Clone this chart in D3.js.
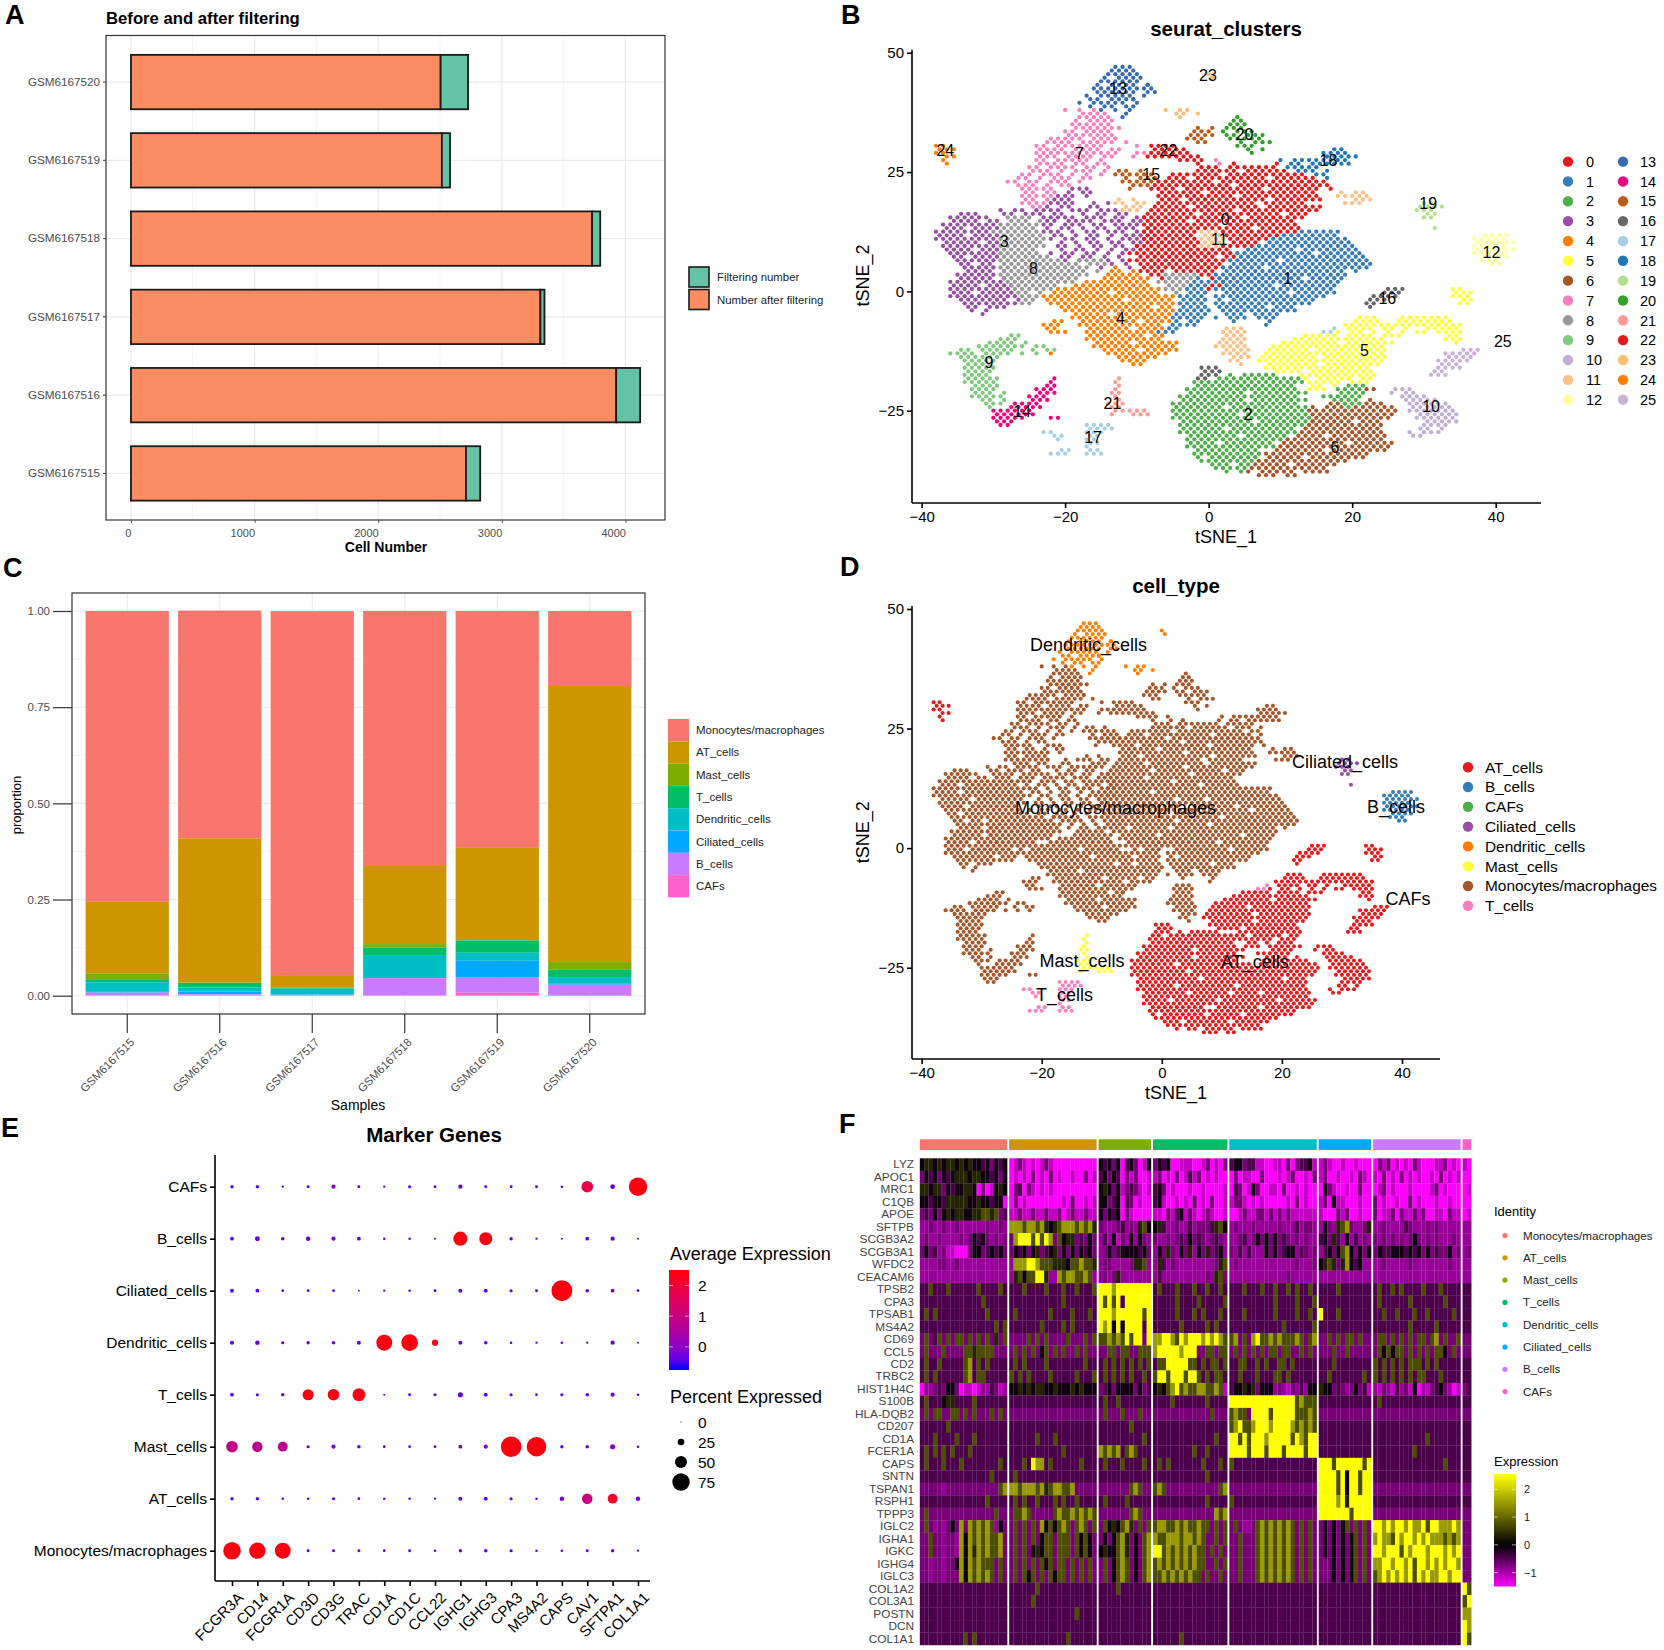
<html>
<head>
<meta charset="utf-8">
<title>scRNA figure</title>
<style>
body { margin: 0; background: white; }
text { font-family: "Liberation Sans", Arial, sans-serif; }
</style>
</head>
<body>
<svg width="1664" height="1650"></svg>
<script src="https://cdn.jsdelivr.net/npm/d3@7"></script>
<script>
// panel A
let samples = ["GSM6167520", "GSM6167519", "GSM6167518", "GSM6167517", "GSM6167516", "GSM6167515"];
let afterFilter = [2505, 2515, 3730, 3312, 3925, 2710];
let filtered = [222, 66, 66, 33, 194, 115];

// panel C, stacked from the top down
let samplesC = ["GSM6167515", "GSM6167516", "GSM6167517", "GSM6167518", "GSM6167519", "GSM6167520"];
let cellTypes = ["Monocytes/macrophages", "AT_cells", "Mast_cells", "T_cells", "Dendritic_cells", "Ciliated_cells", "B_cells", "CAFs"];
let hueColors = ["#F8766D", "#CD9600", "#7CAE00", "#00BE67", "#00BFC4", "#00A9FF", "#C77CFF", "#FF61CC"];
let props = [
  [.756, .186, .017, .006, .025, .002, .007, .001],
  [.592, .375, .001, .012, .0106, .007, .0025, .001],
  [.946, .0326, .0005, .0025, .015, .001, .001, .001],
  [.663, .203, .009, .0195, .0597, .0005, .045, .0005],
  [.614, .2415, .001, .032, .0208, .044, .039, .0078],
  [.195, .7176, .02, .019, .0173, .0026, .0268, .0017]
];

// panels B and D: map of the tSNE, one row for each y step, "startColumn:cells"
// a cell holds the cluster (0-9, a=10 ... p=25), column 0 is tSNE_1 = -38
let tsneTop = 47, tsneStepY = .75, tsneLeft = -38;
let tsneRows = [
"25:ddd",
"24:dddd",
"24:ddddd 38:n",
"23:d.dddd 38:n",
"23:dddddd",
"22:d.dddd.d 29:d",
"22:ddddddd 29:dd",
"22:dddddd 29:dd",
"21:d.ddddd.d",
"21:dd.dddd 27:d",
"20:d.ddddd.d",
"21:d.dd.d 27:d",
"18:7 20:7.7 23:d.d.d 32:n.nn",
"20:777 23:7 25:.d 33:nn.n",
"20:77777 26:d 34:n 42:k",
"19:7.7777 41:kk",
"19:777777 41:kkk",
"19:7777777 36:f.f 40:kkk",
"18:77.7777 36:fff 40:k.kk 44:k",
"18:7777777 35:ffff 40:kk.kkk",
"16:777 19:77.7777 25:7 35:fff 41:kkkkk",
"15:7777.77777 26:7 36:ff 42:k.kkk",
"0:oo 14:77.7777777 28:7 30:mmmm 42:kkk",
"0:ooo 14:7777.7777.77 30:mmmmm 43:k.k 55:ii",
"0:oo 14:777777777777 28:77mmmmmm 44:k 54:iiii",
"1:oo 14:777.7777.77 27:7 29:mmmmmmm 35:.m 54:iiiii",
"1:o 14:77.77777.7 34:mmmm 38:.7 48:i.ii 52:iiiiii",
"1:o 14:7777.77.77 35:.m 39:7.7 41:0 47:0 49:ii.i 53:iiiii",
"13:77.7777.77.7 37:000.0000000 49:iiiii",
"13:777.7.777.7 25:ff.f 36:000000.000000 50:iii.i",
"12:77.777.7.7.7 25:ffffff 33:0000000.00000000000 53:ii",
"11:77.7.777.77 26:f.fff 32:000.0000000000.000000 54:i",
"10:77.77.777.7 26:fffff 31:00000000.000000000000000",
"11:777.7 16:.77 27:fff 30:00000000000.0000000000000",
"12:77777 19:333 27:f 30:0000.00000000000.0000000.0",
"12:77.77 18:3 20:33 31:000000.000000000000000 56:b.bb",
"12:77777 17:33 19:3.3 31:00000000000.00000000000 56:bbbbb",
"12:77.7 16:333 25:b.b 31:000.00000000000.0000000 58:bbb",
"12:7777 16:3333 22:3.3 25:bb.bb 31:00000000000000.000000 57:bbb 68:jj",
"13:77 15:3.33 21:33 26:bbb 30:00000.000000000.00000000 67:jjjj",
"9:3.33.3333.3 20:33.333 26:bbb 30:000000000000.00000000000 67:jjj",
"3:333 9:33.3 13:33.33 20:3.33.33 29:0000000.00000000000.000 68:jj",
"2:333333 10:8888 15:33333 21:333.33.33 29:00000000000000.00000000 68:jj",
"2:3333.33 10:888.8 15:33.33 20:33.333.33 29:000000.00000000000000",
"1:33333333 9:888888 15:33.333.33.3333.3 29:00000000000.0000000000",
"1:333.3333 9:88888 15:3.33.3.33.333.3 29:000000000000000.000000 69:j",
"0:33333333 8:8888888 15:333.3.33.333.333 29:00000000 37:bbb 40:00000000000 51:111111",
"0:3333.3333 9:888888 16:33.3.33.3.333 29:0000000 37:bbb 40:00000000 48:11111111 76:cccc",
"0:333333333 9:8888888 16:3.33.33.3.33333 29:00000000 37:bbbb 41:000000 47:11111111111 75:ccccc",
"1:33333.33 9:888888 17:3.3.33.33.33 29:00000000 37:bbb 41:0000 46:111111111111 75:cccccc",
"1:33333333 9:8888888 17:33.3.33.33.3 28:000000000 37:bbb 40:00000 45:11111111111111 75:ccccc",
"1:3333.333 9:88888 17:3.33.3.3.33 28:0000000000000 43:1111111.11111111 75:cccccc",
"2:3333333 9:888888 16:3.33.33.3.3 27:000000000000000 42:11111111111.111111 75:ccccc",
"2:33.3333 9:8888888 17:33.33.3.3 28:00000000000.00 42:111111111111111111 76:cccc",
"3:333333 9:888888888 18:3.3 20:8888 24:3.3 27:00000000000000 41:1111111.111111111111 76:ccc",
"3:33.33 9:88888888888 21:888 24:3.3 28:000000000000 41:11111111111111111111 77:cc",
"4:33333 9:8888888888888 23:3.4.3 29:00000000000 40:111111.11111111111111",
"4:3333.3 9:888888888888 22:8.4 25:4.4 28:0000.000000 40:11111111111111111.1",
"3:333333 9:8888888888888 24:4444 28:4 30:00 32:88888 37:00 39:1111111111111111111",
"3:33333.3 9:88888888888 23:44444 28:44 31:0 32:8888 36:1 38:0 39:111111111111.11111",
"2:33333333 10:8888888888 21:444444444 31:88888 36:111.0 39:111111111111111111",
"2:3333.3333 10:8888888 19:44444444444 32:888 35:111 38:00 40:1111111.11111111",
"2:333333333 11:888888 17:444444444444444 32:888 35:111 38:0 39:11111111111111111 63:ggg 72:55",
"2:333.33333 11:88.8 16:44444444.444444 33:8 35:111 40:111111111.111111 62:ggg 72:555",
"2:3333333333 12:888 15:4444444444444444444 34:1111 39:1111111111111111 61:gggg 72:555",
"3:3333333.3 12:88 15:44444444444.444444 34:1111 39:1.111111111111 60:ggg 73:55",
"4:33333333 12:88 16:444444444444444444 34:1111 39:11111111111111 60:gg 73:55",
"4:33.333 17:4444444444444.44 34:1111 39:1111111.111 60:g",
"5:3.3 18:4444444444444444 34:11111 40:11111111111",
"6:3 19:44444.44444444 33:11111 40:111.1111",
"19:44444444444444 33:11111 39:1.111.111 59:555 65:5555555",
"16:44 20:44444444.4444 33:1.11 41:1 46:1 58:5555 64:55555555",
"15:444 20:444444444444 33:1111 46:1 57:5555555 64:5555555555",
"15:44 21:444444.4444 32:11 40:bbb 55:h 57:5555.55 63:5.5 68:55555",
"16:444 21:4444444444 31:111 40:bbbb 54:hh 56:5.55.5.5.5.55.5 71:555",
"10:99 21:44444444.44 31:4 40:bbb 53:h 51:55555.5555.555 71:55",
"9:999 21:44444444444 40:bbbb 50:5555555555555 71:555",
"7:9999 12:9 22:44444.444444 39:bbbb 48:55555555.5555555 72:5",
"6:999999 12:9.99 22:444444444444 39:bbbbb 47:5555555555555555",
"3:99.9 7:9999 13:9.99 23:44444.44444 40:bbbb 46:555555.5555555555 73:ppp",
"2:9999.9999 12:9.9.4 24:444444444 40:bbbb 46:55555555555555555 71:ppppp",
"3:99 5:9999 25:444444 41:bbb 45:55555555.555555555 71:pppp",
"4:99999 26:4444 41:bb 45:555555555555555555 70:ppppp",
"4:9999 27:44 42:b 46:5555555.55555555 70:ppp",
"4:99999 37:ggg 46:555555555555555 70:pppp",
"4:9999 37:ggg 47:5555.555555555 69:pp",
"4:9999 37:ggg 41:2.222 46:22 51:55555555555 69:ppp",
"4:99999 16:e 25:l 36:gg 39:2222222222 49:22 51:5.55555 57:5 59:55",
"4:99999 16:e 25:l 36:2222222222222222 52:55555 58:555",
"5:9999 15:ee 25:l 36:22222222222222 52:55 55:5 57:222",
"5:9999 14:eee 25:l 35:2222222222222222 52:555 56:2222 60:66 64:aaa",
"5:999.9 14:eee 24:ll 35:22222222.22222222 56:2222 63:a 65:aa",
"5:99999 13:eee 25:l 34:22222222222222222 54:222222 65:aaaa",
"6:99.9 13:eee 25:l 34:222222222.22222222 55:2222 60:6 65:aaaaa",
"7:999 11:eeee 24:lll 33:222222222222222222 55:66 57:222 60:666 66:aaaaaa",
"7:9 10:eeeee 24:ll 33:2222222.22222222222 52:6 54:666 57:2 58:666666 66:aaaaaa",
"8:eeeeee 25:lllll 33:2222222222222222222 52:6666666666666 66:aaaaaaa",
"8:eeeeee 24:l 27:lll 33:222222222.222222222 52:666666666666 67:aaaaaa",
"8:eeeee 16:ee 33:22222222222222222222 53:66666666666 67:aaaaaa",
"8:eee 34:2222222222.22222222 52:666666.666 68:aaaaa",
"9:ee 21:hhhh 34:222222222222222222 52:66666666666 68:aaaa",
"21:hhhh 34:222222.222222222 51:66666666666 67:aa.a",
"15:hh 21:hhh 34:22222222222222222 51:666666666666 66:a.aaa",
"15:.hh 21:hh 35:2222222.222222 50:6666.66666666 66:aa",
"17:h 21:hh 35:22222222222222 49:66666666666666",
"21:hh 35:2222.2222222 48:666666666.666666",
"21:h 35:2222222222222 48:6666666666666666",
"17:hh 21:hh 36:222222222 47:6666666.66666666",
"16:hhh 21:hhh 36:2222222222 46:666666666666666",
"36:2 38:2222222 46:66666.66666666",
"37:22222222 45:6666666666666",
"38:222.22 44:66666.666666",
"39:22222 44:66666666666",
"40:2.2 43:6 45:66666.6666",
"45:666.66"
];
let clusterCodes = "0123456789abcdefghijklmnop";
let clusterColors = ["#E41A1C", "#377EB8", "#4DAF4A", "#984EA3", "#FF7F00", "#FFFF33", "#A65628", "#F781BF", "#999999",
  "#7FC97F", "#BEAED4", "#FDC086", "#FFFF99", "#386CB0", "#F0027F", "#BF5B17", "#666666", "#A6CEE3", "#1F78B4",
  "#B2DF8A", "#33A02C", "#FB9A99", "#E31A1C", "#FDBF6F", "#FF7F00", "#CAB2D6"];
let clusterLabelX = [2.3, 11, 5.5, -28.5, -12.3, 21.7, 17.6, -18, -24.4, -30.6, 31, 1.5, 39.4, -12.6, -26, -8, 24.9, -16.1, 16.7, 30.6, 5, -13.4, -5.6, -0.1, -36.7, 41];
let clusterLabelY = [15.2, 2.8, -25.8, 10.5, -5.6, -12.3, -32.6, 28.9, 4.9, -14.9, -24.1, 10.9, 8.3, 42.5, -25.1, 24.6, -1.4, -30.5, 27.5, 18.4, 33, -23.4, 29.5, 45.3, 29.6, -10.5];

// panel D
let typeNames = ["AT_cells", "B_cells", "CAFs", "Ciliated_cells", "Dendritic_cells", "Mast_cells", "Monocytes/macrophages", "T_cells"];
let typeColors = ["#E41A1C", "#377EB8", "#4DAF4A", "#984EA3", "#FF7F00", "#FFFF33", "#A65628", "#F781BF"];
// cell type index of every cluster
let clusterType = [6, 6, 0, 6, 6, 0, 0, 6, 6, 6, 0, 6, 1, 4, 6, 6, 0, 7, 6, 3, 6, 5, 6, 4, 0, 0];
let typeLabelX = [15.5, 39, 41, 30.5, -12.2, -13.3, -7.7, -16.2];
let typeLabelY = [-23.7, 8.6, -10.5, 18.2, 42.6, -23.5, 8.4, -30.6];

// panel E
let dotRows = ["CAFs", "B_cells", "Ciliated_cells", "Dendritic_cells", "T_cells", "Mast_cells", "AT_cells", "Monocytes/macrophages"];
let dotGenes = ["FCGR3A", "CD14", "FCGR1A", "CD3D", "CD3G", "TRAC", "CD1A", "CD1C", "CCL22", "IGHG1", "IGHG3", "CPA3", "MS4A2", "CAPS", "CAV1", "SFTPA1", "COL1A1"];
let dotPct = [
  [10, 10, 5, 8, 14, 8, 5, 9, 8, 14, 8, 8, 8, 6, 48, 16, 80],
  [12, 17, 11, 15, 14, 12, 6, 6, 4, 60, 55, 10, 5, 4, 12, 14, 4],
  [13, 12, 7, 7, 7, 3, 5, 6, 8, 13, 12, 9, 8, 91, 11, 12, 7],
  [13, 15, 9, 10, 11, 13, 68, 72, 23, 13, 11, 6, 5, 6, 5, 14, 4],
  [12, 9, 10, 46, 48, 54, 4, 8, 9, 18, 12, 9, 7, 9, 11, 14, 6],
  [48, 43, 40, 9, 14, 11, 7, 7, 7, 12, 14, 90, 85, 10, 11, 18, 6],
  [10, 10, 6, 6, 9, 7, 6, 6, 5, 13, 12, 9, 6, 15, 43, 40, 15],
  [76, 70, 68, 8, 8, 8, 7, 8, 6, 10, 11, 9, 6, 6, 8, 10, 5]
];
let dotExp = [
  [-.45, -.45, -.55, -.55, -.1, -.45, -.55, -.45, -.45, -.35, -.45, -.45, -.45, -.55, 1.8, -.45, 2.4],
  [-.45, -.35, -.45, -.35, -.2, -.45, -.55, -.55, -.55, 2.4, 2.4, -.45, -.55, -.55, -.35, -.35, -.55],
  [-.45, -.45, -.55, -.55, -.55, -.55, -.55, -.55, -.55, -.45, -.45, -.45, -.45, 2.4, -.45, -.2, -.55],
  [-.45, -.35, -.45, -.45, -.35, -.35, 2.4, 2.4, 2.4, -.45, -.45, -.55, -.55, -.55, -.55, -.35, -.55],
  [-.45, -.45, -.45, 2.4, 2.4, 2.4, -.55, -.45, -.45, -.35, -.45, -.45, -.55, -.45, -.35, -.2, -.55],
  [.9, .8, .8, -.45, -.2, -.35, -.55, -.55, -.55, -.45, -.2, 2.4, 2.4, -.45, -.45, 0, -.55],
  [-.45, -.45, -.55, -.55, -.45, -.55, -.55, -.55, -.55, -.45, -.45, -.45, -.55, -.2, 1, 2.2, -.2],
  [2.4, 2.4, 2.4, -.55, -.55, -.55, -.55, -.55, -.55, -.45, -.45, -.55, -.55, -.55, -.45, -.35, -.55]
];

// panel F, one digit for each column of cells, groups split by a space
let heatGenes = ["LYZ", "APOC1", "MRC1", "C1QB", "APOE", "SFTPB", "SCGB3A2", "SCGB3A1", "WFDC2", "CEACAM6", "TPSB2", "CPA3", "TPSAB1", "MS4A2",
  "CD69", "CCL5", "CD2", "TRBC2", "HIST1H4C", "S100B", "HLA-DQB2", "CD207", "CD1A", "FCER1A", "CAPS", "SNTN", "TSPAN1", "RSPH1", "TPPP3",
  "IGLC2", "IGHA1", "IGKC", "IGHG4", "IGLC3", "COL1A2", "COL3A1", "POSTN", "DCN", "COL1A1"];
let heatLevels = [-1.5, -1.15, -.9, -.7, -.45, -.1, .35, .75, 1.5, 2.5];
let heatRows = [
"56656566565655453545 01310101310000000000 545350453015 35450011100130103 45534411001103034451 131001001000 03130101031000113010 10",
"35453545666566554535 01010301030100100301 453540313001 13010301413010100 03011003000101300103 130010010310 10301030101001030101 00",
"66566354556650301565 03403101010000000000 565351343101 45301000100100001 04301530011030010100 053100100300 01301000100001301000 01",
"55455466666556554550 03010000000010300101 553450430100 45100101030103001 13310101000001030100 130511000100 30100100301000100100 00",
"34353565665566776734 11311311311301311311 535450310000 11031451310131001 00131133131313111111 100031300100 30113031131300110311 01",
"22322322322222232232 88878878656788878786 322234232675 56422322423334675 23222322222322242332 253267832236 22322224322232322222 22",
"23223222232354532323 38999797983756634353 242513252532 32232343534323432 22342353535343232322 453642524232 32323232353232322232 22",
"35342311000355345453 35453563456353535453 235345555453 25363253625363452 32424222535345524323 245357853535 35445554545353433523 23",
"22223322322222222222 28889987776665778776 233222236672 26423222222222367 23222222222222232223 567636854522 22322222322222222322 22",
"22222222222222222222 26757799622878877872 232362222222 24222222222232673 22222222222223222222 222222222222 22222222222222222222 22",
"44744474444447444474 44474444744474474447 999899999999 47444744474474474 44474447447447474474 444474444444 47447474444744474444 44",
"44444444444444744444 44444444444474444444 979794999999 44444744447444447 44444444447444474447 444444444444 47444444744444447444 44",
"47474444444444474444 47444444474444744474 999899999979 44444744474744474 44474444447444474474 944474444444 44744744474474444474 44",
"44444444444444444747 44444447444474744444 989595999949 44444474444474744 44444444444474444447 444444444444 44444444744444744444 44",
"37347373773737373637 33337373733337333737 778787979939 88998798999898987 78373897787877787378 337373773733 37737373737737837337 33",
"37333733337767777333 37373735737373373733 337737733777 89999989993377377 37373737377377337373 333733733333 37575773737373775373 33",
"47447444447847474444 47474444744444444744 474747474747 47799999774747747 44774474744774744444 444744444444 74747474777474744444 44",
"47474444447847744444 74747444474444474447 474747474474 79979997997474774 44744474447747444444 447444444474 74747474747744474444 44",
"02234355301101224312 55656566556555656555 345355553534 56578978778877871 45565635552321324255 655343235341 21321423150213453201 34",
"47444566444474444444 44444444444444444444 474474444444 44447444444474444 99999999999999978777 444444444444 47444444444444444444 44",
"37377337737373337373 33333333333333333333 373337333733 33333333333337333 78773999979999977787 333333333333 33333333333333333333 33",
"44444474444444444444 44444444444444444444 444444474444 44444444444444444 78977899989999878787 444444444444 44444444444444444444 44",
"44474444744474444444 44444474447444444444 444444444474 44444444444444744 99797999899999798799 444444444444 44444444444474444444 44",
"47474747444744444444 44444444444474444444 878784787444 44444444474474444 99997999799979999799 444444444444 44444444474444444444 44",
"47444744474444444474 44474988474444447444 474447444474 47474444444744474 74444444444444444444 999799999979 44444444444444447444 44",
"44444444444444447444 47444444444444444444 444444444444 44444444444474444 44444444444444444444 999979599799 44444444444444444444 44",
"33333233333333333378 88788878678877833333 333333378733 78733333333333378 33333333333333333333 999979599799 33333333333333333333 33",
"44444444444444474444 47474474447474474444 474444744444 44444444444474444 74444444444444444444 999989699999 44444444444444444444 44",
"37333333333333333733 37787333337877878787 333333378733 33333333333333878 33333333333333333333 999999979999 33333333333333333333 33",
"37323235383878787253 37373738575787378737 375657863737 78877878778773737 37322378787878737373 353535737373 99898998988979988898 33",
"33733233285878787783 37373735773777375753 353578635378 87788878878733737 33733378787878737373 353535357373 89887989989898887878 33",
"33733233285868787783 37373565773777375753 565578635378 99787878787737373 33733378787878737373 353535357373 99899979899989998989 33",
"33233233585878777373 37373737573773737373 373578735378 78787878787733737 33733378787878737373 333535357373 88998998979989898998 33",
"33233233385878787373 37375737375773737373 373578735378 77878787877373373 33733378787878737373 333535357373 78989898979898899899 33",
"44444444444444444444 44444474444444444444 444474444444 44444444444444444 44444444444444444444 444444444444 44444444444444444444 97",
"44444444444444444444 44444744444444444444 444444444444 44444444444444444 44444444444444444444 444444444444 44444444444444444444 79",
"44444444444444444444 44444444444444474444 444444444444 44444444444444444 44444444444444444444 444444444444 44444444444444444444 88",
"44444444444444444444 44444444444444444444 444444444444 44444444444444444 44444444444444444444 444444444444 44444444444444444444 98",
"44444444447474444444 44444444444447444444 444444444444 44444474444444444 44444444444444444444 444444444444 44444444444444444444 97"
];

let svg = d3.select("svg");

function panelLetter(s, x, y) {
  svg.append("text").attr("x", x).attr("y", y).text(s)
    .attr("font-size", 27).attr("font-weight", "bold");
}
function label(s, x, y, size, opts) {
  opts = opts || {};
  let t = svg.append("text").attr("x", x).attr("y", y).text(s).attr("font-size", size)
    .attr("text-anchor", opts.anchor || "start").attr("fill", opts.fill || "black");
  if (opts.bold) t.attr("font-weight", "bold");
  if (opts.rotate) t.attr("transform", "rotate(" + opts.rotate + " " + x + " " + y + ")");
  return t;
}
function styleAxis(g, color, size, lineWidth) {
  g.selectAll("text").attr("fill", color).attr("font-size", size).attr("font-family", "Liberation Sans");
  g.selectAll("line").attr("stroke", color === "black" ? "black" : "#333").attr("stroke-width", lineWidth);
  g.selectAll("path").attr("stroke", "black").attr("stroke-width", lineWidth);
}
// slanted tick labels that end right at the tick
function slant(g, dx, dy) {
  g.selectAll("text").attr("text-anchor", "end").attr("x", 0).attr("y", 0).attr("dy", ".35em")
    .attr("transform", "translate(" + dx + "," + dy + ") rotate(-45)");
}

// ---------- A
function drawA() {
  let x = d3.scaleLinear().domain([-202, 4320]).range([106, 665]);
  let y = d3.scaleBand().domain(samples).range([35.5, 520]).paddingInner(.305).paddingOuter(.2475);
  let grid = svg.append("g").attr("stroke", "#ebebeb");
  grid.selectAll(".minor").data([500, 1500, 2500, 3500]).join("line")
    .attr("x1", d => x(d)).attr("x2", d => x(d)).attr("y1", 35.5).attr("y2", 520).attr("stroke-width", .7);
  grid.selectAll(".major").data([0, 1000, 2000, 3000, 4000]).join("line")
    .attr("x1", d => x(d)).attr("x2", d => x(d)).attr("y1", 35.5).attr("y2", 520).attr("stroke-width", 1.3);
  grid.selectAll(".hor").data(samples).join("line")
    .attr("x1", 106).attr("x2", 665).attr("y1", d => y(d) + y.bandwidth() / 2).attr("y2", d => y(d) + y.bandwidth() / 2).attr("stroke-width", 1.3);

  samples.forEach((s, i) => {
    svg.append("rect").attr("x", x(0)).attr("y", y(s)).attr("width", x(afterFilter[i]) - x(0)).attr("height", y.bandwidth())
      .attr("fill", "#FC8D62").attr("stroke", "#1a1a1a").attr("stroke-width", 1.8);
    svg.append("rect").attr("x", x(afterFilter[i])).attr("y", y(s)).attr("width", x(afterFilter[i] + filtered[i]) - x(afterFilter[i])).attr("height", y.bandwidth())
      .attr("fill", "#66C2A5").attr("stroke", "#1a1a1a").attr("stroke-width", 1.8);
  });

  svg.append("rect").attr("x", 106).attr("y", 35.5).attr("width", 559).attr("height", 484.5)
    .attr("fill", "none").attr("stroke", "#333").attr("stroke-width", 1.2);
  let ax = svg.append("g").attr("transform", "translate(0,520)").call(d3.axisBottom(x).tickValues([0, 1000, 2000, 3000, 4000]).tickSize(3).tickPadding(6).tickFormat(d3.format("d")));
  styleAxis(ax, "#4d4d4d", 11, .8);
  ax.select("path").remove();
  ax.selectAll("text").attr("text-anchor", "end");
  let ay = svg.append("g").attr("transform", "translate(106,0)").call(d3.axisLeft(y).tickSize(3));
  styleAxis(ay, "#4d4d4d", 11.7, 1);
  ay.select("path").remove();

  label("Before and after filtering", 106, 24, 16.7, { bold: true });
  label("Cell Number", 386, 552, 14, { bold: true, anchor: "middle" });

  [["#66C2A5", "Filtering number"], ["#FC8D62", "Number after filtering"]].forEach((d, i) => {
    svg.append("rect").attr("x", 689).attr("y", 267 + 22.5 * i).attr("width", 20).attr("height", 20)
      .attr("fill", d[0]).attr("stroke", "#1a1a1a").attr("stroke-width", 1.6);
    label(d[1], 717, 281 + 22.5 * i, 11.4, { fill: "#222" });
  });
}

// ---------- B and D share the tSNE map
function tsneCells() {
  let cells = [];
  tsneRows.forEach((row, r) => {
    row.split(" ").forEach(seg => {
      let p = seg.split(":");
      p[1].split("").forEach((ch, k) => {
        if (ch === ".") return;
        cells.push({ x: tsneLeft + (+p[0]) + k + (r % 2) * .5, y: tsneTop - r * tsneStepY, c: clusterCodes.indexOf(ch) });
      });
    });
  });
  return cells;
}

function drawTsne(o) {
  let x = d3.scaleLinear().domain([-40, 40]).range(o.xRange);
  let y = d3.scaleLinear().domain([-25, 50]).range(o.yRange);
  svg.append("g").selectAll("circle").data(tsneCells()).join("circle")
    .attr("cx", d => x(d.x)).attr("cy", d => y(d.y)).attr("r", o.r)
    .attr("fill", d => o.color(d.c));

  let ax = svg.append("g").attr("transform", "translate(0," + o.bottom + ")")
    .call(d3.axisBottom(x).tickValues([-40, -20, 0, 20, 40]).tickSize(5).tickSizeOuter(0));
  ax.select("path").attr("d", "M" + o.left + ",0H" + o.right);
  styleAxis(ax, "black", 15, 1.6);
  let ay = svg.append("g").attr("transform", "translate(" + o.left + ",0)")
    .call(d3.axisLeft(y).tickValues([-25, 0, 25, 50]).tickSize(5).tickSizeOuter(0));
  ay.select("path").attr("d", "M0," + (y(50) - 3) + "V" + o.bottom);
  styleAxis(ay, "black", 15, 1.6);

  o.labels.forEach(d => {
    label(d.s, x(d.x), y(d.y) + o.labelSize * .36, o.labelSize, { anchor: "middle" });
  });
  label(o.title, o.titleX, o.titleY, 20.5, { bold: true, anchor: "middle" });
  label("tSNE_1", o.titleX, o.bottom + 40, 18, { anchor: "middle" });
  label("tSNE_2", 869, y(0) - 16, 18, { anchor: "middle", rotate: -90 });
}

function drawB() {
  drawTsne({
    xRange: [921.6, 1495.7], yRange: [410.7, 52.7], left: 912, right: 1541, bottom: 503, r: 2.15,
    color: c => clusterColors[c], title: "seurat_clusters", titleX: 1226, titleY: 36, labelSize: 16,
    labels: clusterColors.map((c, i) => ({ s: String(i), x: clusterLabelX[i], y: clusterLabelY[i] }))
  });
  clusterColors.forEach((c, i) => {
    let col = i < 13 ? 0 : 1;
    let cy = 161.6 + 19.84 * (i % 13);
    svg.append("circle").attr("cx", 1568 + col * 55).attr("cy", cy).attr("r", 5.2).attr("fill", c);
    label(String(i), 1586 + col * 54, cy + 5.2, 14.5);
  });
}

function drawD() {
  drawTsne({
    xRange: [921.6, 1402], yRange: [967.7, 609], left: 912, right: 1440, bottom: 1059, r: 2.05,
    color: c => typeColors[clusterType[c]], title: "cell_type", titleX: 1176, titleY: 593, labelSize: 18,
    labels: typeNames.map((s, i) => ({ s: s, x: typeLabelX[i], y: typeLabelY[i] }))
  });
  typeNames.forEach((s, i) => {
    let cy = 767.2 + 19.8 * i;
    svg.append("circle").attr("cx", 1468).attr("cy", cy).attr("r", 5.2).attr("fill", typeColors[i]);
    label(s, 1485, cy + 5.3, 15.4);
  });
}

// ---------- C
function drawC() {
  let x = d3.scaleBand().domain(samplesC).range([71.5, 645.5]).paddingInner(.1).paddingOuter(.1525);
  let y = d3.scaleLinear().domain([0, 1]).range([995.7, 611]);
  let grid = svg.append("g").attr("stroke", "#ebebeb");
  grid.selectAll(".minor").data([.125, .375, .625, .875]).join("line")
    .attr("x1", 72).attr("x2", 645).attr("y1", d => y(d)).attr("y2", d => y(d)).attr("stroke-width", .6);
  grid.selectAll(".major").data([0, .25, .5, .75, 1]).join("line")
    .attr("x1", 72).attr("x2", 645).attr("y1", d => y(d)).attr("y2", d => y(d)).attr("stroke-width", 1.1);
  grid.selectAll(".v").data(samplesC).join("line")
    .attr("x1", d => x(d) + x.bandwidth() / 2).attr("x2", d => x(d) + x.bandwidth() / 2).attr("y1", 593).attr("y2", 1015).attr("stroke-width", 1.1);

  samplesC.forEach((s, i) => {
    let top = d3.sum(props[i]);
    cellTypes.forEach((t, k) => {
      let h = props[i][k];
      svg.append("rect").attr("x", x(s)).attr("width", x.bandwidth())
        .attr("y", y(top)).attr("height", y(top - h) - y(top)).attr("fill", hueColors[k]);
      top -= h;
    });
  });

  svg.append("rect").attr("x", 72).attr("y", 593).attr("width", 573).attr("height", 421)
    .attr("fill", "none").attr("stroke", "#333").attr("stroke-width", 1.2);
  let ay = svg.append("g").attr("transform", "translate(72,0)")
    .call(d3.axisLeft(y).tickValues([0, .25, .5, .75, 1]).tickSize(19).tickPadding(3).tickFormat(d3.format(".2f")));
  styleAxis(ay, "#4d4d4d", 11.5, 1.2);
  ay.select("path").remove();
  let ax = svg.append("g").attr("transform", "translate(0,1014)").call(d3.axisBottom(x).tickSize(19));
  styleAxis(ax, "#4d4d4d", 11.5, 1.2);
  ax.select("path").remove();
  slant(ax, 5, 26);

  label("Samples", 358, 1110, 14, { anchor: "middle" });
  label("proportion", 21, 805, 13, { anchor: "middle", rotate: -90 });

  cellTypes.forEach((t, k) => {
    svg.append("rect").attr("x", 668).attr("y", 719 + 22.3 * k).attr("width", 21).attr("height", 22.3).attr("fill", hueColors[k]);
    label(t, 696, 734 + 22.3 * k, 11.5, { fill: "#222" });
  });
}

// ---------- E
function drawE() {
  let x = d3.scalePoint().domain(dotGenes).range([232, 638]);
  let y = d3.scalePoint().domain(dotRows).range([1186.7, 1550.7]);
  let radius = d3.scaleLinear().domain([0, 100]).range([.6, 11.4]);
  let color = d3.scaleLinear().domain([-.75, 2.5]).range(["blue", "red"]).interpolate(d3.interpolateLab).clamp(true);

  dotRows.forEach((r, i) => {
    svg.append("g").selectAll("circle").data(dotGenes).join("circle")
      .attr("cx", g => x(g)).attr("cy", y(r))
      .attr("r", (g, k) => radius(dotPct[i][k]))
      .attr("fill", (g, k) => color(dotExp[i][k]));
  });

  let ay = svg.append("g").attr("transform", "translate(215,0)").call(d3.axisLeft(y).tickSize(5).tickPadding(3));
  ay.select("path").attr("d", "M0,1155V1581");
  styleAxis(ay, "black", 15.5, 1.6);
  let ax = svg.append("g").attr("transform", "translate(0,1581)").call(d3.axisBottom(x).tickSize(5));
  ax.select("path").attr("d", "M215,0H650");
  styleAxis(ax, "black", 15, 1.6);
  slant(ax, 8, 14);

  label("Marker Genes", 434, 1142, 20.5, { bold: true, anchor: "middle" });

  // colour legend
  label("Average Expression", 670, 1260, 18);
  let bar = d3.scaleLinear().domain([-.75, 2.5]).range([1370, 1270]);
  let stops = d3.range(0, 11).map(i => i / 10);
  let defs = svg.append("defs");
  let grad = defs.append("linearGradient").attr("id", "gradE").attr("x1", 0).attr("x2", 0).attr("y1", 1).attr("y2", 0);
  stops.forEach(s => grad.append("stop").attr("offset", s).attr("stop-color", color(-.75 + s * 3.25)));
  svg.append("rect").attr("x", 669).attr("y", 1270).attr("width", 20).attr("height", 100).attr("fill", "url(#gradE)");
  [0, 1, 2].forEach(v => {
    svg.append("line").attr("x1", 669).attr("x2", 673).attr("y1", bar(v)).attr("y2", bar(v)).attr("stroke", "white").attr("stroke-width", .6);
    svg.append("line").attr("x1", 685).attr("x2", 689).attr("y1", bar(v)).attr("y2", bar(v)).attr("stroke", "white").attr("stroke-width", .6);
    label(String(v), 698, bar(v) + 5.5, 15.5);
  });

  // size legend
  label("Percent Expressed", 670, 1403, 18);
  [0, 25, 50, 75].forEach((p, i) => {
    let cy = 1422 + 20 * i;
    svg.append("circle").attr("cx", 681).attr("cy", cy).attr("r", radius(p)).attr("fill", "black");
    label(String(p), 698, cy + 5.5, 15.5);
  });
}

// ---------- F
function drawF() {
  let groupCols = heatRows[0].split(" ").map(s => s.length);
  let cellW = 4.37, gap = 2, x0 = 919.8;
  let colX = d3.scaleLinear().domain([0, 1]).range([x0, x0 + cellW]);
  let y = d3.scaleBand().domain(heatGenes).range([1158.3, 1645]);
  let color = d3.scaleLinear().domain([-1.5, 0, 2.5]).range(["#ff00ff", "#000000", "#ffff00"]).clamp(true);

  let start = 0;
  groupCols.forEach((n, g) => {
    let left = colX(start) + g * gap;
    svg.append("rect").attr("x", left).attr("y", 1139.3).attr("width", colX(n) - colX(0)).attr("height", 10.7).attr("fill", hueColors[g]);
    heatGenes.forEach((gene, r) => {
      let cells = heatRows[r].split(" ")[g].split("");
      svg.append("g").selectAll("rect").data(cells).join("rect")
        .attr("x", (d, k) => left + colX(k) - colX(0))
        .attr("y", y(gene))
        .attr("width", cellW + .15).attr("height", y.bandwidth() + .2)
        .attr("fill", d => color(heatLevels[+d]));
    });
    start += n;
  });

  let ay = svg.append("g").attr("transform", "translate(919,0)").call(d3.axisLeft(y).tickSize(0).tickPadding(5));
  ay.select("path").remove();
  styleAxis(ay, "#444", 11.8, 0);

  label("Identity", 1494, 1216, 13);
  cellTypes.forEach((t, k) => {
    let cy = 1235.5 + 22.3 * k;
    svg.append("circle").attr("cx", 1505).attr("cy", cy).attr("r", 2.6).attr("fill", hueColors[k]);
    label(t, 1523, cy + 4, 11.6, { fill: "#222" });
  });

  label("Expression", 1494, 1466, 13);
  let bar = d3.scaleLinear().domain([-1.5, 2.55]).range([1586.5, 1474]);
  let grad = svg.append("defs").append("linearGradient").attr("id", "gradF").attr("x1", 0).attr("x2", 0).attr("y1", 1).attr("y2", 0);
  d3.range(0, 21).map(i => i / 20).forEach(s => grad.append("stop").attr("offset", s).attr("stop-color", color(-1.5 + s * 4.05)));
  svg.append("rect").attr("x", 1494).attr("y", 1474).attr("width", 22).attr("height", 112.5).attr("fill", "url(#gradF)");
  [-1, 0, 1, 2].forEach(v => {
    svg.append("line").attr("x1", 1494).attr("x2", 1498).attr("y1", bar(v)).attr("y2", bar(v)).attr("stroke", "white").attr("stroke-width", .6);
    svg.append("line").attr("x1", 1512).attr("x2", 1516).attr("y1", bar(v)).attr("y2", bar(v)).attr("stroke", "white").attr("stroke-width", .6);
    label(d3.format("d")(v), 1524, bar(v) + 4, 11, { fill: "#222" });
  });
}

drawA();
drawB();
drawC();
drawD();
drawE();
drawF();
panelLetter("A", 5, 24);
panelLetter("B", 841, 24);
panelLetter("C", 3, 577);
panelLetter("D", 840, 576);
panelLetter("E", 1, 1137);
panelLetter("F", 839, 1133);
</script>
</body>
</html>
